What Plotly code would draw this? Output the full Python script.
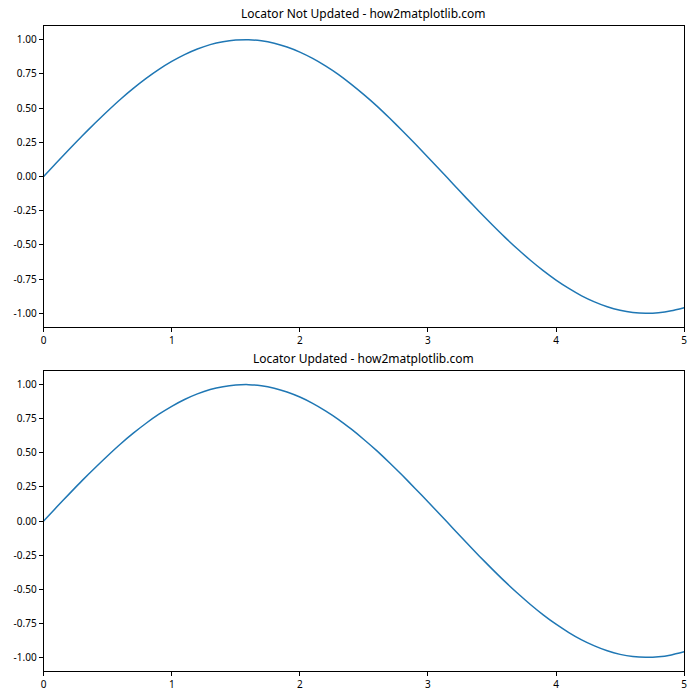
import plotly.graph_objects as go
from plotly.subplots import make_subplots

x_vals = [0.0, 0.1, 0.2, 0.3, 0.4, 0.5, 0.6, 0.7, 0.8, 0.9,
          1.0, 1.1, 1.2, 1.3, 1.4, 1.5, 1.6, 1.7, 1.8, 1.9,
          2.0, 2.1, 2.2, 2.3, 2.4, 2.5, 2.6, 2.7, 2.8, 2.9,
          3.0, 3.1, 3.2, 3.3, 3.4, 3.5, 3.6, 3.7, 3.8, 3.9,
          4.0, 4.1, 4.2, 4.3, 4.4, 4.5, 4.6, 4.7, 4.8, 4.9, 5.0]
y_vals = [0.000, 0.100, 0.199, 0.296, 0.389, 0.479, 0.565, 0.644, 0.717, 0.783,
          0.841, 0.891, 0.932, 0.964, 0.985, 0.997, 1.000, 0.992, 0.974, 0.946,
          0.909, 0.863, 0.808, 0.746, 0.675, 0.598, 0.516, 0.427, 0.335, 0.239,
          0.141, 0.042, -0.058, -0.158, -0.256, -0.351, -0.443, -0.530, -0.612, -0.688,
          -0.757, -0.818, -0.872, -0.916, -0.952, -0.978, -0.994, -1.000, -0.996, -0.982, -0.959]
titles = ["Locator Not Updated - how2matplotlib.com", "Locator Updated - how2matplotlib.com"]
x_ticks = [0, 1, 2, 3, 4, 5]
y_ticks = [1.00, 0.75, 0.50, 0.25, 0.00, -0.25, -0.50, -0.75, -1.00]

W, H = 700, 700
left, right = 41, 687
panels = [(26, 327), (371, 671)]

fig = make_subplots(rows=2, cols=1)
font = "Noto Sans, Open Sans, sans-serif"
for i, (top, bot) in enumerate(panels):
    r = i + 1
    fig.add_trace(go.Scatter(x=x_vals, y=y_vals, mode="lines",
                             line=dict(color="#1f77b4", width=1.5, shape="spline", smoothing=0.6),
                             showlegend=False, hoverinfo="skip"), row=r, col=1)
    xa = "xaxis" if r == 1 else f"xaxis{r}"
    ya = "yaxis" if r == 1 else f"yaxis{r}"
    fig.layout[xa].update(domain=[left / W, right / W], range=[0, 5],
                          tickvals=x_ticks, ticktext=[str(t) for t in x_ticks],
                          ticks="outside", ticklen=4, tickwidth=1, tickcolor="black",
                          showline=True, linecolor="black", linewidth=1, mirror=True,
                          showgrid=False, zeroline=False,
                          tickfont=dict(family=font, size=10, color="black"))
    fig.layout[ya].update(domain=[1 - bot / H, 1 - top / H], range=[-1.1, 1.1],
                          tickvals=y_ticks, ticktext=[f"{t:.2f}" for t in y_ticks],
                          ticks="outside", ticklen=4, tickwidth=1, tickcolor="black",
                          showline=True, linecolor="black", linewidth=1, mirror=True,
                          showgrid=False, zeroline=False,
                          tickfont=dict(family=font, size=10, color="black"))
    fig.add_annotation(text=titles[i], xref="paper", yref="paper",
                       x=(left + right) / 2 / W, y=1 - top / H,
                       xanchor="center", yanchor="bottom", yshift=2, showarrow=False,
                       font=dict(family=font, size=12, color="black"))

fig.update_layout(width=W, height=H, margin=dict(l=0, r=0, t=0, b=0),
                  paper_bgcolor="white", plot_bgcolor="white")
fig.write_html("out.html")
